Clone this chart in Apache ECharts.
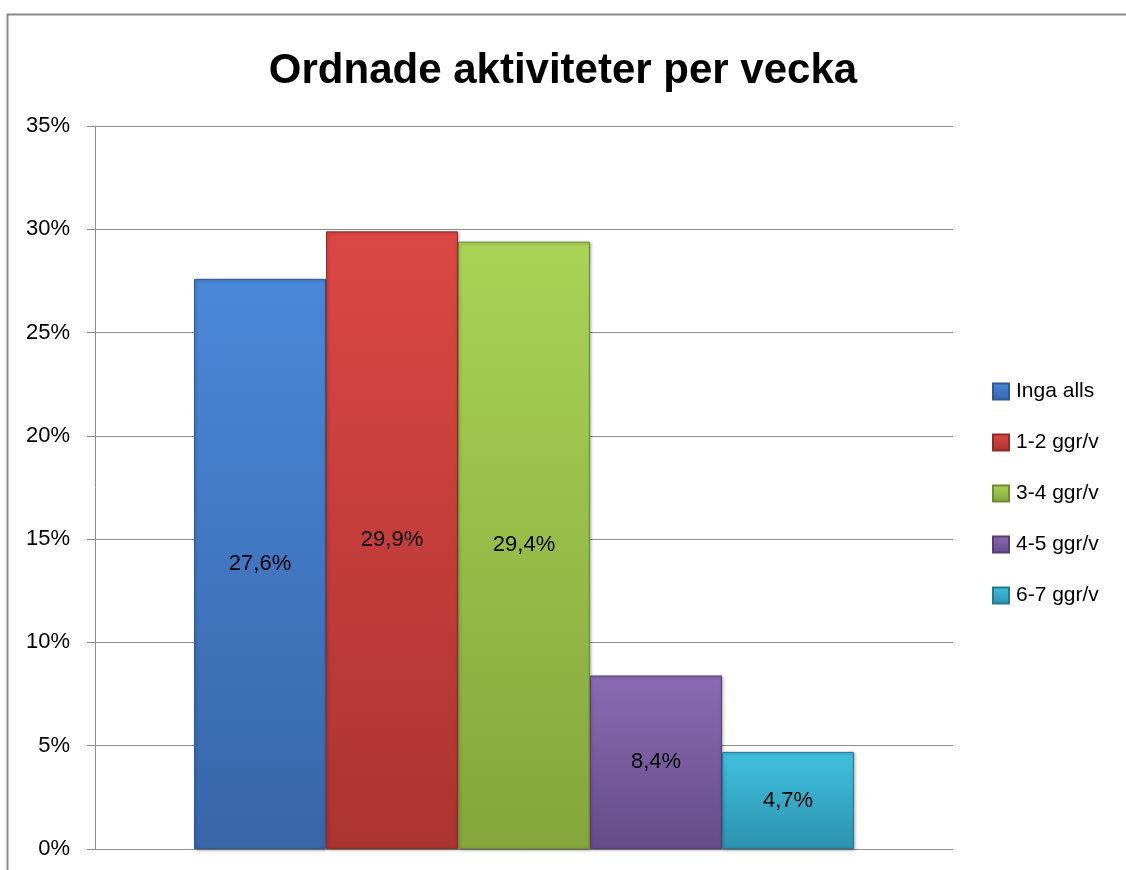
<!DOCTYPE html>
<html><head><meta charset="utf-8">
<script src="https://cdn.jsdelivr.net/npm/echarts@6/dist/echarts.min.js"></script>
<style>html,body{margin:0;padding:0;background:#fff}#c{width:1126px;height:870px}</style>
</head><body><div id="c"></div>
<script>
const categories = [''];
const seriesNames = ['Inga alls', '1-2 ggr/v', '3-4 ggr/v', '4-5 ggr/v', '6-7 ggr/v'];
const seriesValues = [27.6, 29.9, 29.4, 8.4, 4.7];
const yTicks = [0, 5, 10, 15, 20, 25, 30, 35];
const colorsTop = ['#4a88d8', '#dc4744', '#a9d455', '#8a6bb3', '#3fc0de'];
const colorsBottom = ['#3866a8', '#ab3431', '#84a63c', '#664c8a', '#2d93ae'];
const borders = ['#2f5a96', '#8f2b28', '#6f8c32', '#553f75', '#257a91'];

const FONT = '"Liberation Sans", Arial, sans-serif';
const chart = echarts.init(document.getElementById('c'), null, {renderer: 'canvas'});
const series = seriesNames.map((name, i) => ({
  name: name,
  type: 'bar',
  data: [seriesValues[i]],
  barWidth: 132,
  barGap: '0%',
  itemStyle: {
    color: new echarts.graphic.LinearGradient(0, 0, 0, 1, [
      {offset: 0, color: colorsTop[i]},
      {offset: 1, color: colorsBottom[i]}
    ]),
    borderColor: borders[i],
    borderWidth: 1,
    shadowColor: 'rgba(0,0,0,0.3)',
    shadowBlur: 3,
    shadowOffsetX: 1,
    shadowOffsetY: 1
  },
  label: {
    show: true,
    position: 'inside',
    color: '#000',
    fontSize: 22,
    fontFamily: FONT,
    formatter: p => p.value.toFixed(1).replace('.', ',') + '%'
  }
}));

chart.setOption({
  animation: false,
  backgroundColor: '#fff',
  title: {
    text: 'Ordnade aktiviteter per vecka',
    left: 'center',
    top: 45,
    textStyle: {fontSize: 42, fontWeight: 'bold', color: '#000', fontFamily: FONT}
  },
  graphic: [{
    type: 'rect',
    shape: {x: 7.5, y: 14.5, width: 1300, height: 1000},
    style: {fill: 'none', stroke: '#8c8c8c', lineWidth: 2},
    silent: true
  }],
  legend: {
    orient: 'vertical',
    left: 987,
    top: 376,
    itemWidth: 16,
    itemHeight: 16,
    itemGap: 30,
    icon: 'rect',
    textStyle: {fontSize: 21, color: '#000', fontFamily: FONT, padding: [0, 0, 0, 2]},
    data: seriesNames
  },
  grid: {left: 95, right: 173, top: 126, bottom: 21, containLabel: false},
  xAxis: {
    type: 'category',
    data: categories,
    axisLine: {lineStyle: {color: '#8c8c8c', width: 1}},
    axisTick: {show: false},
    axisLabel: {show: false}
  },
  yAxis: {
    type: 'value',
    min: 0,
    max: 35,
    interval: 5,
    axisLine: {show: true, lineStyle: {color: '#8c8c8c', width: 1}},
    axisTick: {show: true, length: 8, lineStyle: {color: '#8c8c8c'}},
    splitLine: {lineStyle: {color: '#8c8c8c', width: 1}},
    axisLabel: {
      fontSize: 22, color: '#000', fontFamily: FONT, margin: 25,
      formatter: v => yTicks.includes(v) ? v + '%' : ''
    }
  },
  series: series
});
</script></body></html>
